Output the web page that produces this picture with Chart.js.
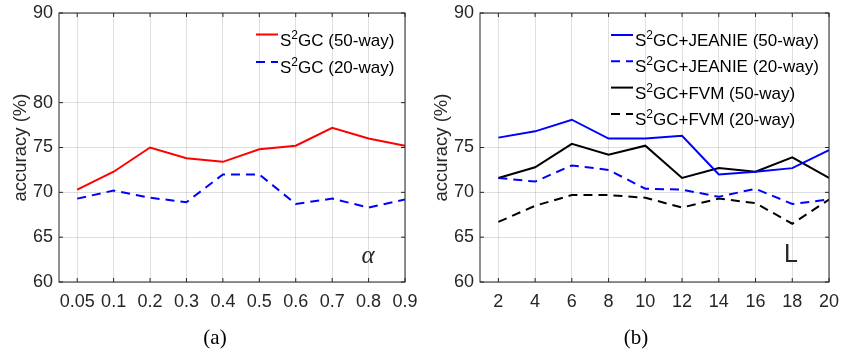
<!DOCTYPE html>
<html>
<head>
<meta charset="utf-8">
<script src="https://cdn.jsdelivr.net/npm/chart.js@4"></script>
<style>
  body { margin: 0; background: #fff; }
  .wrap { position: absolute; top: 0; height: 354px; }
</style>
</head>
<body>
<div class="wrap" style="left:0;width:420px"><canvas id="chartA" width="420" height="354"></canvas></div>
<div class="wrap" style="left:420px;width:421px"><canvas id="chartB" width="421" height="354"></canvas></div>
<script>
// (a) accuracy vs alpha
const alphaLabels = ['0.05', '0.1', '0.2', '0.3', '0.4', '0.5', '0.6', '0.7', '0.8', '0.9'];
const s2gc50 = [70.3, 72.3, 75.0, 73.8, 73.4, 74.8, 75.2, 77.2, 76.0, 75.2];
const s2gc20 = [69.3, 70.2, 69.4, 68.9, 72.0, 72.0, 68.7, 69.3, 68.3, 69.2];
const yTicksA = [60, 65, 70, 75, 80, 90];

// (b) accuracy vs L
const lValues = [2, 4, 6, 8, 10, 12, 14, 16, 18, 20];
const jeanie50 = [76.1, 76.8, 78.1, 76.0, 76.0, 76.3, 72.0, 72.3, 72.7, 74.7];
const jeanie20 = [71.6, 71.2, 73.0, 72.5, 70.4, 70.3, 69.5, 70.4, 68.7, 69.2];
const fvm50 = [71.6, 72.8, 75.4, 74.2, 75.2, 71.6, 72.7, 72.3, 73.9, 71.6];
const fvm20 = [66.7, 68.5, 69.7, 69.7, 69.4, 68.3, 69.3, 68.8, 66.5, 69.2];
const yTicksB = [60, 65, 70, 75, 90];

const SANS = '"Liberation Sans", Arial, sans-serif';
const SERIF = '"Liberation Serif", "Times New Roman", serif';
const axisColor = '#262626';
const gridColor = 'rgba(38,38,38,0.15)';
const dash = [9, 6];

// box around the plot with MATLAB-style inward ticks
const boxPlugin = {
  id: 'box',
  afterDatasetsDraw(chart) {
    const { ctx, chartArea: a, scales } = chart;
    ctx.save();
    ctx.strokeStyle = axisColor;
    ctx.lineWidth = 1;
    ctx.strokeRect(a.left, a.top, a.right - a.left, a.bottom - a.top);
    ctx.beginPath();
    scales.x.ticks.forEach(t => {
      const x = scales.x.getPixelForValue(t.value);
      ctx.moveTo(x, a.bottom); ctx.lineTo(x, a.bottom - 4);
      ctx.moveTo(x, a.top); ctx.lineTo(x, a.top + 4);
    });
    scales.y.ticks.forEach(t => {
      const y = scales.y.getPixelForValue(t.value);
      ctx.moveTo(a.left, y); ctx.lineTo(a.left + 4, y);
      ctx.moveTo(a.right, y); ctx.lineTo(a.right - 4, y);
    });
    ctx.stroke();
    ctx.restore();
  }
};

// legend inside the plot, with a superscript 2
const legendPlugin = {
  id: 's2legend',
  afterDraw(chart, args, opts) {
    const ctx = chart.ctx;
    ctx.save();
    chart.data.datasets.forEach((ds, i) => {
      const y = opts.y + i * opts.step;
      ctx.strokeStyle = ds.borderColor;
      ctx.lineWidth = 2;
      ctx.setLineDash(ds.borderDash || []);
      ctx.beginPath();
      ctx.moveTo(opts.x, y);
      ctx.lineTo(opts.x + 22, y);
      ctx.stroke();
      ctx.setLineDash([]);

      const parts = ds.label.split('²');
      let x = opts.x + 24;
      const base = y + 11;
      ctx.fillStyle = '#000';
      ctx.textBaseline = 'alphabetic';
      ctx.textAlign = 'left';
      ctx.font = '17px ' + SANS;
      ctx.fillText(parts[0], x, base);
      x += ctx.measureText(parts[0]).width;
      ctx.font = '12px ' + SANS;
      ctx.fillText('2', x, base - 7);
      x += ctx.measureText('2').width;
      ctx.font = '17px ' + SANS;
      ctx.fillText(parts[1], x, base);
    });
    ctx.restore();
  }
};

// free text: panel captions and axis symbols
const notesPlugin = {
  id: 'notes',
  afterDraw(chart, args, opts) {
    const ctx = chart.ctx;
    ctx.save();
    ctx.textAlign = 'center';
    ctx.textBaseline = 'middle';
    opts.items.forEach(n => {
      ctx.font = n.font;
      ctx.fillStyle = n.color || '#000';
      ctx.fillText(n.text, n.x, n.y);
    });
    ctx.restore();
  }
};

function lineSet(label, values, xs, color, dashed) {
  return {
    label: label,
    data: values.map((v, i) => ({ x: xs[i], y: v })),
    borderColor: color,
    borderWidth: 2,
    borderDash: dashed ? dash : [],
    pointRadius: 0,
    tension: 0,
    fill: false
  };
}

function yScale(ticks) {
  return {
    min: 60,
    max: 90,
    afterBuildTicks: s => { s.ticks = ticks.map(v => ({ value: v })); },
    afterFit: s => {
      s.width = 59;
      s.paddingTop = 0;
      s.paddingBottom = 0;
    },
    grid: { color: gridColor, drawTicks: false },
    border: { display: false },
    ticks: { color: axisColor, padding: 6, font: { family: SANS, size: 18 } },
    title: {
      display: true,
      text: 'accuracy (%)',
      color: axisColor,
      padding: { top: 10, bottom: 0 },
      font: { family: SANS, size: 18.5 }
    }
  };
}

function xScale(min, max, values, callback) {
  return {
    type: 'linear',
    min: min,
    max: max,
    afterBuildTicks: s => { s.ticks = values.map(v => ({ value: v })); },
    afterFit: s => {
      s.height = 72;
      s.paddingLeft = 0;
      s.paddingRight = 0;
    },
    grid: { color: gridColor, drawTicks: false },
    border: { display: false },
    ticks: {
      color: axisColor,
      padding: 9,
      autoSkip: false,
      maxRotation: 0,
      minRotation: 0,
      font: { family: SANS, size: 18 },
      callback: callback
    }
  };
}

const alphaIdx = alphaLabels.map((_, i) => i);

new Chart(document.getElementById('chartA'), {
  type: 'line',
  data: {
    datasets: [
      lineSet('S²GC (50-way)', s2gc50, alphaIdx, '#ff0000', false),
      lineSet('S²GC (20-way)', s2gc20, alphaIdx, '#0000ff', true)
    ]
  },
  options: {
    responsive: false,
    animation: false,
    layout: { padding: { top: 13, right: 15, bottom: 0, left: 0 } },
    scales: {
      x: xScale(-0.5, 9, alphaIdx, v => alphaLabels[v]),
      y: yScale(yTicksA)
    },
    plugins: {
      legend: { display: false },
      tooltip: { enabled: false },
      s2legend: { x: 256, y: 34.5, step: 27.5 },
      notes: {
        items: [
          { text: '(a)', x: 215, y: 338, font: '21px ' + SERIF },
          { text: 'α', x: 368, y: 256, font: 'italic 25px ' + SERIF, color: '#262626' }
        ]
      }
    }
  },
  plugins: [boxPlugin, legendPlugin, notesPlugin]
});

new Chart(document.getElementById('chartB'), {
  type: 'line',
  data: {
    datasets: [
      lineSet('S²GC+JEANIE (50-way)', jeanie50, lValues, '#0000ff', false),
      lineSet('S²GC+JEANIE (20-way)', jeanie20, lValues, '#0000ff', true),
      lineSet('S²GC+FVM (50-way)', fvm50, lValues, '#000000', false),
      lineSet('S²GC+FVM (20-way)', fvm20, lValues, '#000000', true)
    ]
  },
  options: {
    responsive: false,
    animation: false,
    layout: { padding: { top: 13, right: 12, bottom: 0, left: 1 } },
    scales: {
      x: xScale(1, 20, lValues, v => String(v)),
      y: yScale(yTicksB)
    },
    plugins: {
      legend: { display: false },
      tooltip: { enabled: false },
      s2legend: { x: 191, y: 35, step: 26.3 },
      notes: {
        items: [
          { text: '(b)', x: 216, y: 338, font: '21px ' + SERIF },
          { text: 'L', x: 371, y: 255, font: '25px ' + SANS, color: '#262626' }
        ]
      }
    }
  },
  plugins: [boxPlugin, legendPlugin, notesPlugin]
});
</script>
</body>
</html>
